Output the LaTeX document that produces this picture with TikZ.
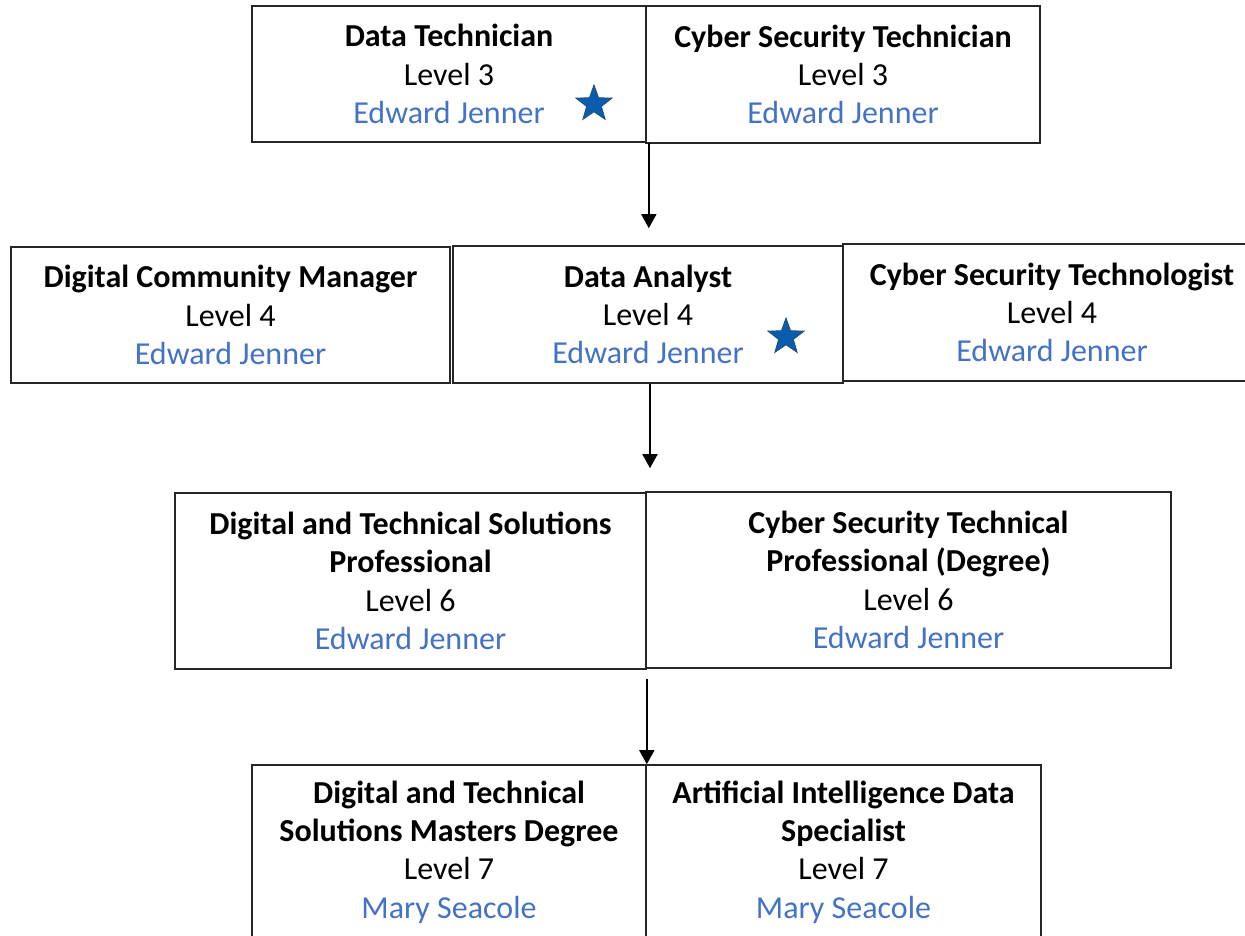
\documentclass[tikz,border=0pt]{standalone}
\usepackage{fontspec}
\setmainfont{Carlito}
\usetikzlibrary{arrows.meta,shapes.geometric}
\definecolor{namecol}{HTML}{4472C4}
\definecolor{starfill}{HTML}{0B5CAD}
\definecolor{starline}{HTML}{1F4E79}
\definecolor{boxline}{HTML}{262626}
\tikzset{
  box/.style={draw=boxline, line width=1.6pt, rectangle, inner sep=0pt, align=center,
    font=\fontsize{32}{38.3}\selectfont, text=black},
  pstar/.style={star, star points=5, star point ratio=2.45, minimum size=38pt, inner sep=0pt,
    fill=starfill, draw=starline, line width=0.8pt},
  arr/.style={draw=black, line width=1.6pt, -{Triangle[width=15pt,length=14pt]}}
}
\newcommand{\nm}[1]{\textcolor{namecol}{#1}}
\begin{document}
\begin{tikzpicture}[x=1pt,y=-1pt]
\useasboundingbox (0,0) rectangle (1245,936);
\clip (0,0) rectangle (1245,936);
% row 1
\node[box, minimum width=394pt, minimum height=136pt] (A) at (449,74)
  {\textbf{Data Technician}\\Level 3\\\nm{Edward Jenner}};
\node[box, minimum width=394pt, minimum height=137pt] (B) at (843,74.5)
  {\textbf{Cyber Security Technician}\\Level 3\\\nm{Edward Jenner}};
\node[pstar] (s1) at (594,104) {};
% row 2
\node[box, minimum width=439pt, minimum height=136pt] (C) at (230.5,315)
  {\textbf{Digital Community Manager}\\Level 4\\\nm{Edward Jenner}};
\node[box, minimum width=390pt, minimum height=137pt] (D) at (648,314.5)
  {\textbf{Data Analyst}\\Level 4\\\nm{Edward Jenner}};
\node[box, minimum width=418pt, minimum height=137pt] (E) at (1052,312.5)
  {\textbf{Cyber Security Technologist}\\Level 4\\\nm{Edward Jenner}};
\node[pstar] (s2) at (786,337) {};
% row 3
\node[box, minimum width=471pt, minimum height=176pt] (F) at (410.5,581)
  {\textbf{Digital and Technical Solutions}\\\textbf{Professional}\\Level 6\\\nm{Edward Jenner}};
\node[box, minimum width=525pt, minimum height=176pt] (G) at (908.5,580)
  {\textbf{Cyber Security Technical}\\\textbf{Professional (Degree)}\\Level 6\\\nm{Edward Jenner}};
% row 4
\node[box, minimum width=394pt, minimum height=174pt] (H) at (449,852)
  {\textbf{Digital and Technical}\\\textbf{Solutions Masters Degree}\\Level 7\\\nm{Mary Seacole}};
\node[box, minimum width=395pt, minimum height=174pt] (I) at (843.5,852)
  {\textbf{Artificial Intelligence Data}\\\textbf{Specialist}\\Level 7\\\nm{Mary Seacole}};
% arrows
\draw[arr] ([xshift=2pt]A.south east) -- ([xshift=2pt,yshift=17pt]A.south east |- D.north);
\draw[arr] ([xshift=2pt]D.south) -- ([xshift=2pt,yshift=24pt]D.south |- F.north);
\draw[arr] ([yshift=-9pt]F.south east) -- (F.south east |- H.north);
\end{tikzpicture}
\end{document}
